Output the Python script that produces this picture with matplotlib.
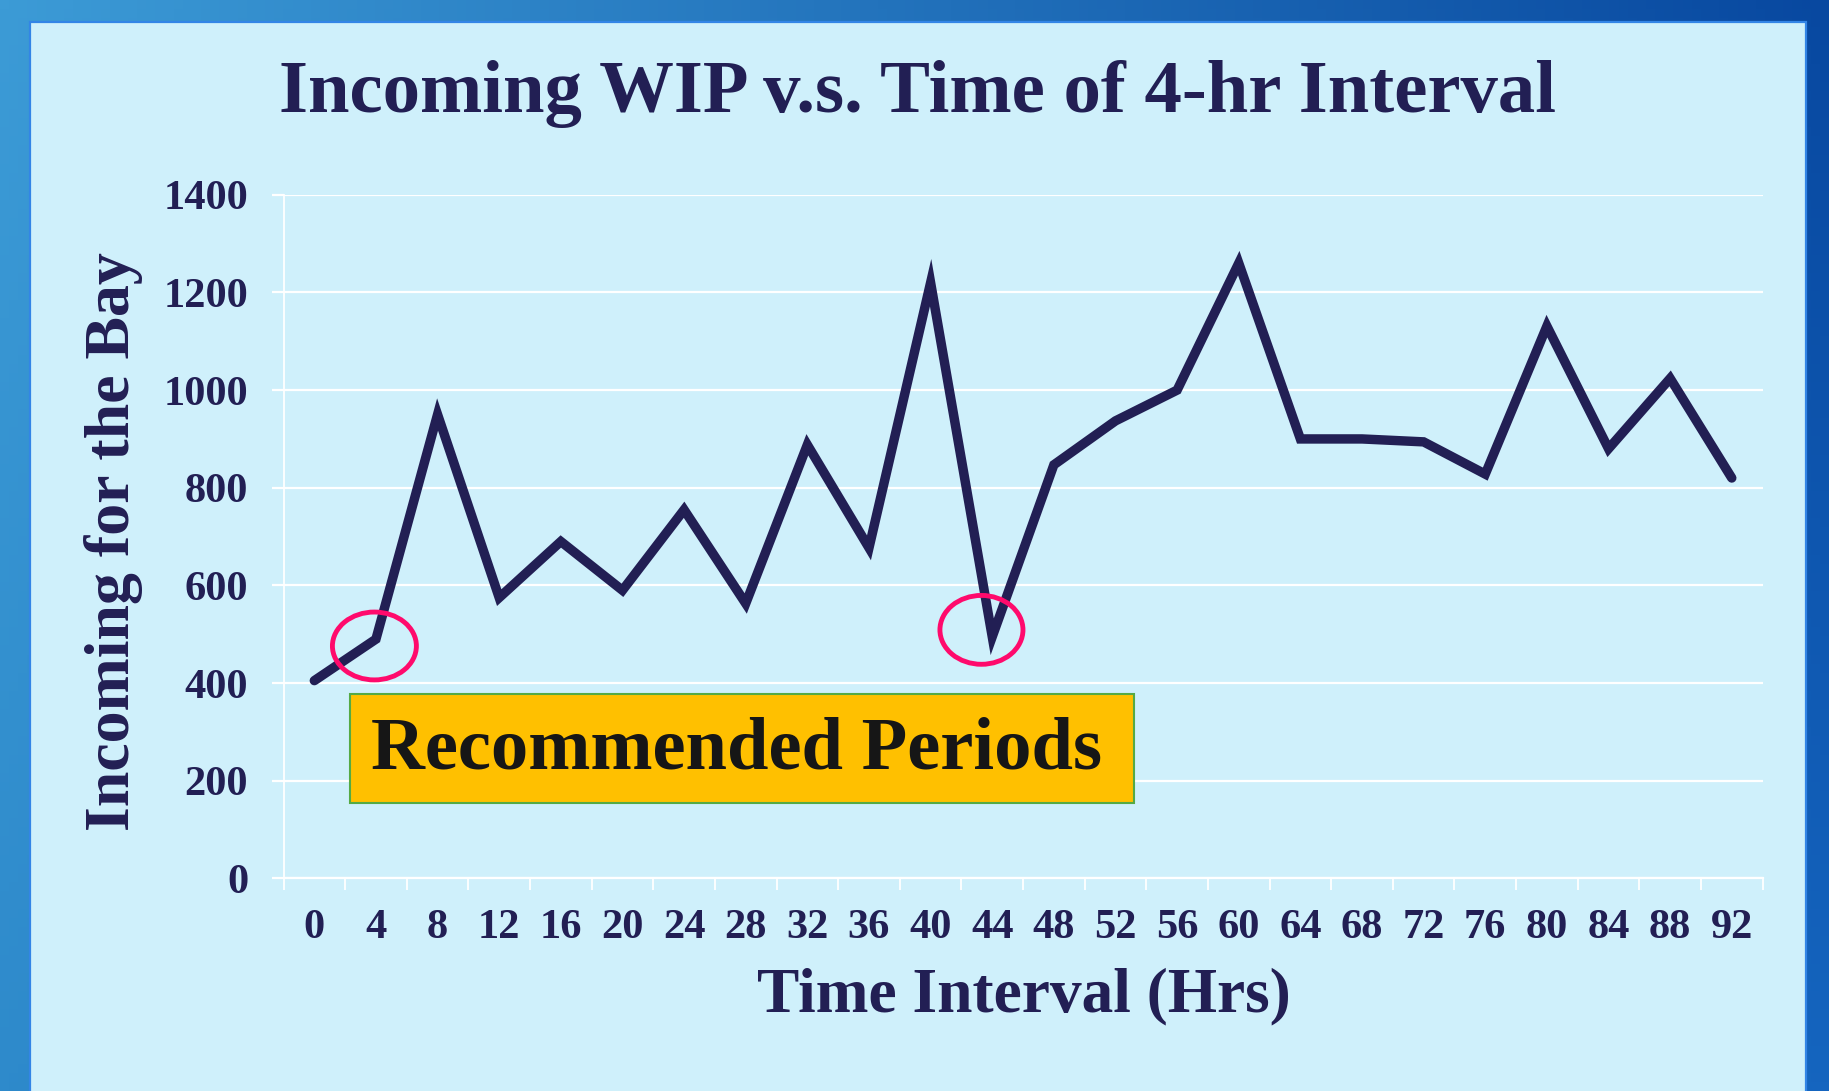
import numpy as np
import matplotlib
matplotlib.use("Agg")
import matplotlib.pyplot as plt
from matplotlib.patches import Rectangle, Ellipse

# ---- data ----
hours = [0, 4, 8, 12, 16, 20, 24, 28, 32, 36, 40, 44,
         48, 52, 56, 60, 64, 68, 72, 76, 80, 84, 88, 92]
incoming = [405, 490, 950, 575, 690, 590, 755, 563, 888, 677, 1220, 495,
            847, 937, 1000, 1260, 900, 900, 894, 828, 1131, 880, 1024, 820]
y_ticks = [0, 200, 400, 600, 800, 1000, 1200, 1400]

title = "Incoming WIP v.s. Time of 4-hr Interval"
xlabel = "Time Interval (Hrs)"
ylabel = "Incoming for the Bay"
box_text = "Recommended Periods"

W, H = 1829, 1091
DPI = 100
navy = "#221F54"
serif = ["Liberation Serif", "DejaVu Serif"]

fig = plt.figure(figsize=(W / DPI, H / DPI), dpi=DPI)

# background gradient
bg = fig.add_axes([0, 0, 1, 1], zorder=-10)
tl = np.array([0x3C, 0x9B, 0xD6]) / 255
tr = np.array([0x08, 0x48, 0xA0]) / 255
bl = np.array([0x2E, 0x8A, 0xCB]) / 255
br = np.array([0x15, 0x65, 0xBF]) / 255
u = np.linspace(0, 1, 200)[None, :, None]
v = np.linspace(0, 1, 120)[:, None, None]
grad = (1 - v) * ((1 - u) * tl + u * tr) + v * ((1 - u) * bl + u * br)
bg.imshow(grad, aspect="auto", extent=[0, 1, 0, 1], origin="upper")
bg.set_axis_off()

# panel
def fx(px):
    return px / W

def fy(py):
    return 1 - py / H

fig.patches.append(Rectangle((fx(30), fy(1100)), fx(1806) - fx(30), fy(22) - fy(1100),
                             transform=fig.transFigure, facecolor="#CFF0FB",
                             edgecolor="#3385E6", linewidth=1.6, zorder=-5))

# main axes
left, right = 283.5, 1762.6
top, bottom = 194.8, 878.4
ax = fig.add_axes([fx(left), fy(bottom), fx(right) - fx(left), fy(top) - fy(bottom)])
ax.set_facecolor("none")
ax.plot(hours, incoming, color=navy, linewidth=6.8, solid_joinstyle="miter",
        solid_capstyle="round", zorder=5, clip_on=False)
ax.set_xlim(-2, 94)
ax.set_ylim(0, 1400)

ax.set_yticks(y_ticks)
ax.set_yticklabels([str(t) for t in y_ticks])
ax.set_xticks(hours)
ax.set_xticklabels([str(h) for h in hours])
ax.set_xticks(np.arange(-2, 95, 4), minor=True)
ax.tick_params(axis="x", which="major", length=0, pad=22)
ax.tick_params(axis="x", which="minor", length=8.5, width=1.3, color="white", direction="out")
ax.tick_params(axis="y", which="major", length=8.5, width=1.6, color="white", direction="out", pad=17)
for lab in ax.get_xticklabels() + ax.get_yticklabels():
    lab.set_fontfamily(serif)
    lab.set_fontweight("bold")
    lab.set_fontsize(30.5)
    lab.set_color(navy)

ax.grid(axis="y", color="white", linewidth=1.6)
ax.set_axisbelow(True)
for s in ["top", "right"]:
    ax.spines[s].set_visible(False)
ax.spines["left"].set_color("white")
ax.spines["left"].set_linewidth(1.3)
ax.spines["bottom"].set_color("white")
ax.spines["bottom"].set_linewidth(1.6)

# highlight ellipses
ax.add_patch(Ellipse((3.9, 476), 5.45, 139, fill=False, edgecolor="#FF0A6C",
                     linewidth=3.5, zorder=6, clip_on=False))
ax.add_patch(Ellipse((43.3, 509), 5.39, 141, fill=False, edgecolor="#FF0A6C",
                     linewidth=3.5, zorder=6, clip_on=False))

# recommended box
ax.add_patch(Rectangle((2.32, 154.4), 53.2 - 2.32, 377.6 - 154.4, facecolor="#FFC000",
                       edgecolor="#55AA44", linewidth=1.5, zorder=7, clip_on=False))
ax.text(3.68, 262, box_text, fontfamily=serif, fontweight="bold", fontsize=53.7,
        color="#161616", ha="left", va="center", zorder=8)

# titles
fig.text(fx(917.5), fy(112), title, fontfamily=serif, fontweight="bold", fontsize=53.8,
         color=navy, ha="center", va="baseline")
fig.text(fx(1024), fy(1011.7), xlabel, fontfamily=serif, fontweight="bold", fontsize=45.6,
         color=navy, ha="center", va="baseline")
fig.text(fx(114), fy(541.8), ylabel, fontfamily=serif, fontweight="bold", fontsize=46,
         color=navy, ha="center", va="center", rotation=90)

fig.savefig("out.png", dpi=DPI)
